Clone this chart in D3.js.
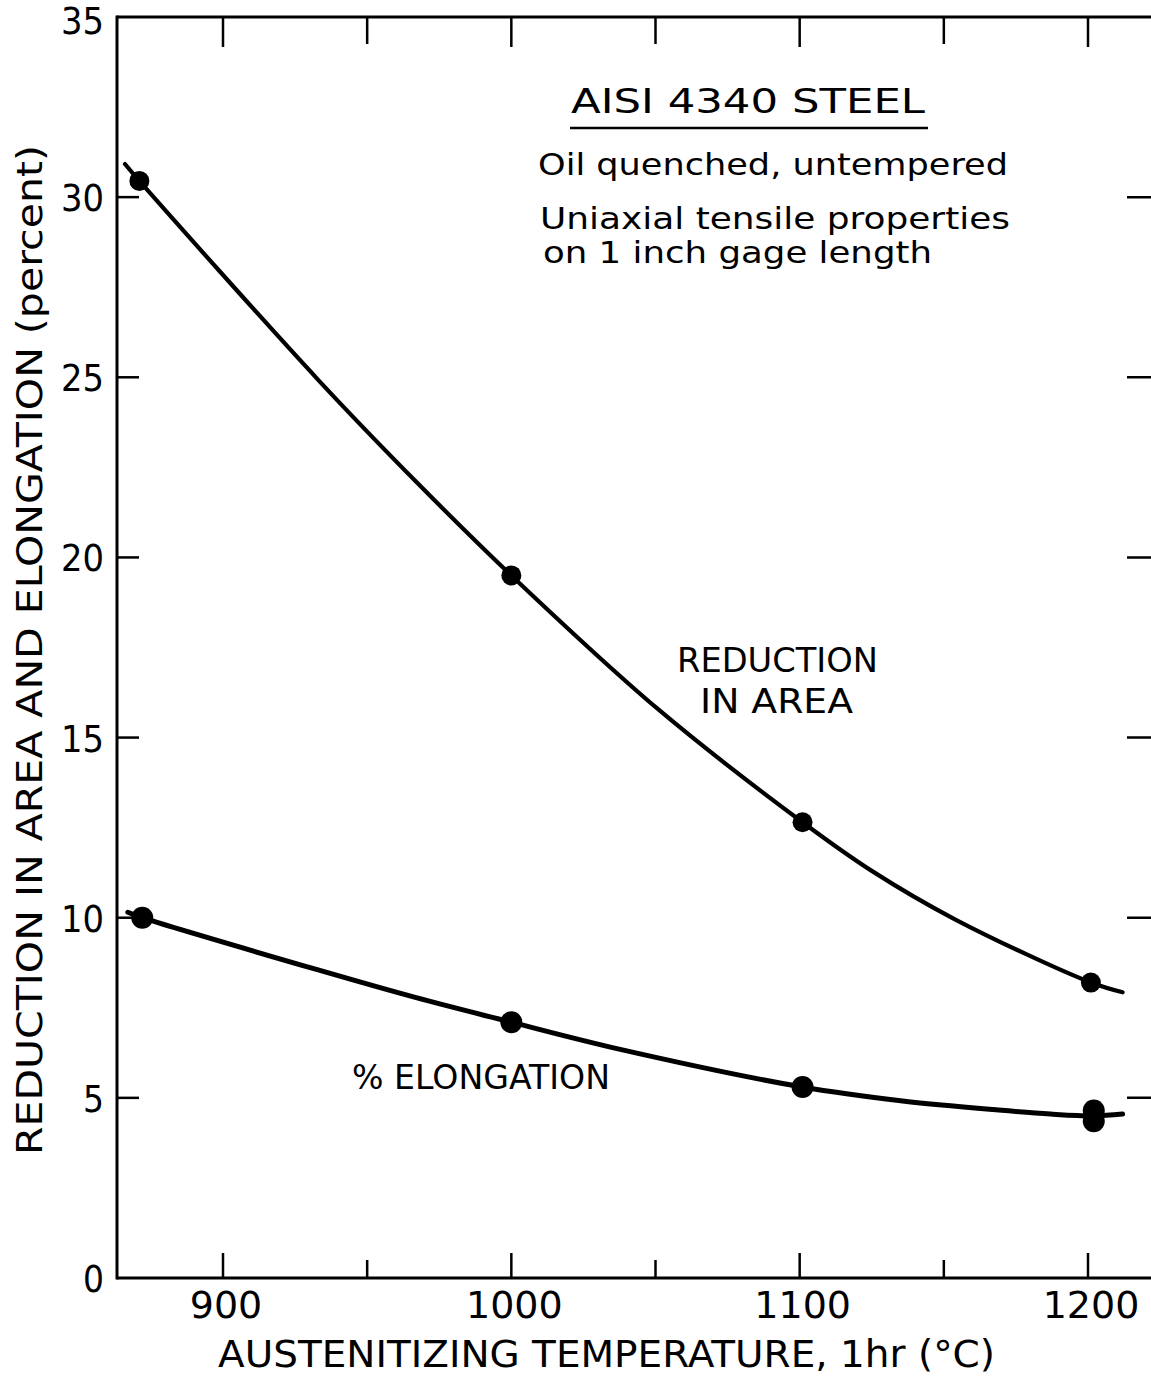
<!DOCTYPE html>
<html>
<head>
<meta charset="utf-8">
<script src="https://cdn.jsdelivr.net/npm/d3@7"></script>
<style>
  html, body { margin: 0; padding: 0; background: #fff; }
  svg { display: block; }
  text { font-family: "DejaVu Sans", "Liberation Sans", sans-serif; fill: #000; }
</style>
</head>
<body>
<svg id="chart" width="1151" height="1376"></svg>
<script>
// ---- data ----
const yTicks = [0, 5, 10, 15, 20, 25, 30, 35];
const xMajorTicks = [900, 1000, 1100, 1200];
const xMinorTicks = [950, 1050, 1150];
const xTickLabels = ["900", "1000", "1100", "1200"];

// measured points
const raTemp = [871, 1000, 1101, 1201];
const raValue = [30.45, 19.5, 12.65, 8.2];
const elTemp = [872, 1000, 1101, 1202, 1202];
const elValue = [10.0, 7.1, 5.3, 4.65, 4.35];

// hand-drawn fitted curves
const raCurveTemp = [866, 871, 933, 967, 1000, 1051, 1101, 1125, 1154, 1201, 1212];
const raCurveValue = [30.92, 30.45, 24.93, 22.1, 19.5, 15.78, 12.65, 11.3, 9.95, 8.2, 7.93];
const elCurveTemp = [867, 872, 933, 967, 1000, 1037, 1101, 1135, 1169, 1187, 1202, 1212];
const elCurveValue = [10.15, 10.0, 8.55, 7.78, 7.1, 6.36, 5.3, 4.92, 4.66, 4.55, 4.5, 4.55];

const titleText = "AISI 4340 STEEL";
const noteLines = ["Oil quenched, untempered", "Uniaxial tensile properties", "on 1 inch gage length"];
const raLabel = ["REDUCTION", "IN AREA"];
const elLabel = "% ELONGATION";
const xTitle = "AUSTENITIZING TEMPERATURE, 1hr (\u00B0C)";
const yTitle = "REDUCTION IN AREA AND ELONGATION (percent)";

// ---- layout ----
const svg = d3.select("#chart");
const plotLeft = 117, plotTop = 17, plotBottom = 1278;
const x = d3.scaleLinear().domain([900, 1200]).range([223, 1088]);
const y = d3.scaleLinear().domain([0, 35]).range([plotBottom, plotTop]);
const xMax = x.invert(1160);

const g = svg.append("g");

// frame lines (left, top, bottom)
g.append("line").attr("x1", plotLeft).attr("x2", plotLeft).attr("y1", plotTop - 1.5).attr("y2", plotBottom + 1.5)
  .attr("stroke", "#000").attr("stroke-width", 3);
g.append("line").attr("x1", plotLeft).attr("x2", x(xMax)).attr("y1", plotTop).attr("y2", plotTop)
  .attr("stroke", "#000").attr("stroke-width", 3);
g.append("line").attr("x1", plotLeft).attr("x2", x(xMax)).attr("y1", plotBottom).attr("y2", plotBottom)
  .attr("stroke", "#000").attr("stroke-width", 3);

// x ticks (inward, bottom and top)
xMajorTicks.forEach(t => {
  g.append("line").attr("x1", x(t)).attr("x2", x(t)).attr("y1", plotBottom).attr("y2", plotBottom - 25)
    .attr("stroke", "#000").attr("stroke-width", 2.5);
  g.append("line").attr("x1", x(t)).attr("x2", x(t)).attr("y1", plotTop).attr("y2", plotTop + 30)
    .attr("stroke", "#000").attr("stroke-width", 2.5);
});
xMinorTicks.forEach(t => {
  g.append("line").attr("x1", x(t)).attr("x2", x(t)).attr("y1", plotBottom).attr("y2", plotBottom - 18)
    .attr("stroke", "#000").attr("stroke-width", 2.5);
  g.append("line").attr("x1", x(t)).attr("x2", x(t)).attr("y1", plotTop).attr("y2", plotTop + 27)
    .attr("stroke", "#000").attr("stroke-width", 2.5);
});

// x tick labels
xMajorTicks.forEach((t, i) => {
  g.append("text").attr("x", x(t) + 3).attr("y", 1318).attr("text-anchor", "middle")
    .attr("font-size", 38).text(xTickLabels[i]);
});

// y ticks: left inward + right inward
yTicks.filter(v => v > 0 && v < 35).forEach(v => {
  g.append("line").attr("x1", plotLeft).attr("x2", plotLeft + 22).attr("y1", y(v)).attr("y2", y(v))
    .attr("stroke", "#000").attr("stroke-width", 2.5);
  g.append("line").attr("x1", 1127).attr("x2", 1160).attr("y1", y(v)).attr("y2", y(v))
    .attr("stroke", "#000").attr("stroke-width", 2.5);
});
// y tick labels
yTicks.forEach(v => {
  const s = String(v);
  g.append("text").attr("x", 104).attr("y", y(v) + (v === 35 ? 3 : 0) + 14)
    .attr("text-anchor", "end").attr("font-size", 38)
    .attr("textLength", s.length === 1 ? 21 : 43).attr("lengthAdjust", "spacingAndGlyphs")
    .text(s);
});

// curves
const line = d3.line().x(d => x(d[0])).y(d => y(d[1])).curve(d3.curveCatmullRom.alpha(0.5));
g.append("path").datum(raCurveTemp.map((t, i) => [t, raCurveValue[i]]))
  .attr("d", line).attr("fill", "none").attr("stroke", "#000").attr("stroke-width", 4.2)
  .attr("stroke-linecap", "round");
g.append("path").datum(elCurveTemp.map((t, i) => [t, elCurveValue[i]]))
  .attr("d", line).attr("fill", "none").attr("stroke", "#000").attr("stroke-width", 5)
  .attr("stroke-linecap", "round");

// markers
g.selectAll("circle.ra").data(raTemp.map((t, i) => [t, raValue[i]])).enter()
  .append("circle").attr("class", "ra").attr("cx", d => x(d[0])).attr("cy", d => y(d[1]))
  .attr("r", 10).attr("fill", "#000");
g.selectAll("circle.el").data(elTemp.map((t, i) => [t, elValue[i]])).enter()
  .append("circle").attr("class", "el").attr("cx", d => x(d[0])).attr("cy", d => y(d[1]))
  .attr("r", 11).attr("fill", "#000");

// annotation block
g.append("text").attr("x", 571).attr("y", 113).attr("font-size", 33)
  .attr("textLength", 354).attr("lengthAdjust", "spacingAndGlyphs").text(titleText);
g.append("line").attr("x1", 570).attr("x2", 928).attr("y1", 128).attr("y2", 128)
  .attr("stroke", "#000").attr("stroke-width", 2.5);
const noteY = [175, 229, 263];
const noteX = [538, 540, 543];
const noteW = [470, 470, 389];
noteLines.forEach((s, i) => {
  g.append("text").attr("x", noteX[i]).attr("y", noteY[i]).attr("font-size", 30)
    .attr("textLength", noteW[i]).attr("lengthAdjust", "spacingAndGlyphs").text(s);
});

// series labels
g.append("text").attr("x", 677).attr("y", 672).attr("font-size", 33)
  .attr("textLength", 201).attr("lengthAdjust", "spacingAndGlyphs").text(raLabel[0]);
g.append("text").attr("x", 700).attr("y", 713).attr("font-size", 33)
  .attr("textLength", 153).attr("lengthAdjust", "spacingAndGlyphs").text(raLabel[1]);
g.append("text").attr("x", 352).attr("y", 1089).attr("font-size", 33)
  .attr("textLength", 258).attr("lengthAdjust", "spacingAndGlyphs").text(elLabel);

// axis titles
g.append("text").attr("x", 218).attr("y", 1367).attr("font-size", 37)
  .attr("textLength", 777).attr("lengthAdjust", "spacingAndGlyphs").text(xTitle);
g.append("text").attr("transform", "translate(42,650) rotate(-90)")
  .attr("text-anchor", "middle").attr("font-size", 36)
  .attr("textLength", 1010).attr("lengthAdjust", "spacingAndGlyphs").text(yTitle);
</script>
</body>
</html>
